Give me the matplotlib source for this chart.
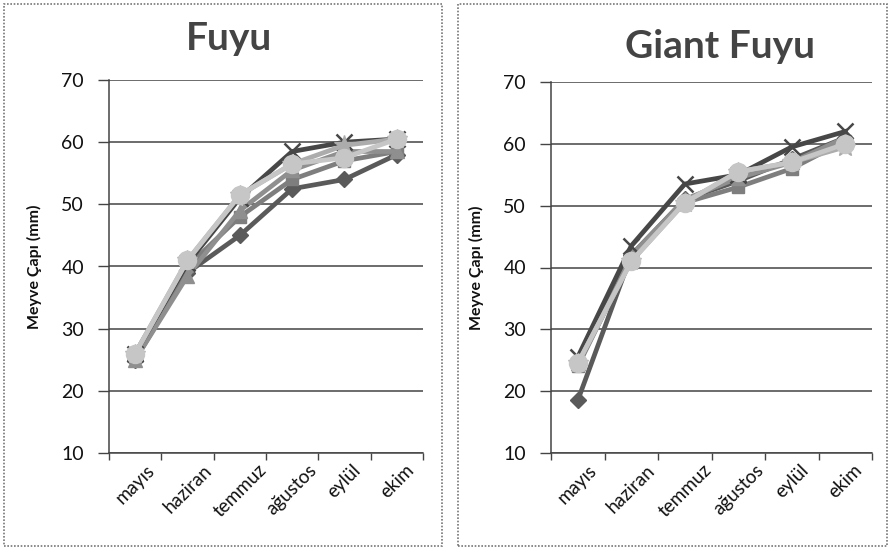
import matplotlib
matplotlib.use("Agg")
import matplotlib.pyplot as plt
from matplotlib.patches import Rectangle

plt.rcParams['font.family'] = ['Lato', 'DejaVu Sans']

months = ["mayıs", "haziran", "temmuz", "ağustos", "eylül", "ekim"]
yticks = [10, 20, 30, 40, 50, 60, 70]

# Fuyu fruit diameter (mm) per series
fuyu_diamond = [25.0, 39.0, 45.0, 52.5, 54.0, 58.0]
fuyu_square = [25.5, 40.0, 48.0, 54.0, 57.0, 58.5]
fuyu_triangle = [25.0, 38.5, 49.0, 55.5, 58.5, 58.5]
fuyu_x = [26.0, 40.5, 51.0, 58.5, 60.0, 60.5]
fuyu_star = [26.0, 41.0, 51.5, 56.5, 59.5, 60.5]
fuyu_circle = [26.0, 41.0, 51.5, 56.5, 57.5, 60.5]

# Giant Fuyu fruit diameter (mm) per series
giant_diamond = [18.5, 42.0, 51.0, 54.0, 57.5, 61.0]
giant_square = [24.0, 41.5, 50.5, 53.0, 56.0, 60.5]
giant_triangle = [24.5, 42.0, 51.0, 54.5, 57.0, 61.0]
giant_x = [25.5, 43.5, 53.5, 55.0, 59.5, 62.0]
giant_star = [24.5, 41.0, 50.5, 55.5, 57.0, 59.5]
giant_circle = [24.5, 41.0, 50.5, 55.5, 57.0, 60.0]

styles = [
    dict(color="#5a5a5a", marker="D", ms=8),
    dict(color="#7e7e7e", marker="s", ms=9),
    dict(color="#8f8f8f", marker="^", ms=10),
    dict(color="#474747", marker="x", ms=12, mew=1.8),
    dict(color="#acacac", marker="*", ms=15),
    dict(color="#c6c6c6", marker="o", ms=13),
]

W, H = 890, 549
fig = plt.figure(figsize=(W / 100, H / 100), dpi=100)
fig.patch.set_facecolor("white")


def px_axes(x0, y0, x1, y1):
    return fig.add_axes([x0 / W, 1 - y1 / H, (x1 - x0) / W, (y1 - y0) / H])


def panel(ax, title, series, title_xy, box):
    bx0, by0, bx1, by1 = box
    fig.patches.append(Rectangle((bx0 / W, 1 - by1 / H), (bx1 - bx0) / W, (by1 - by0) / H,
                                 transform=fig.transFigure, fill=False,
                                 edgecolor="#777777", lw=1.2, ls=(0, (1, 1))))
    x = list(range(len(months)))
    for vals, st in zip(series, styles):
        ax.plot(x, vals, color=st["color"], lw=3.4, marker=st["marker"],
                ms=st["ms"], mew=st.get("mew", 1), mfc=st["color"], mec=st["color"],
                solid_joinstyle="round", zorder=3)
    ax.set_xlim(-0.5, len(months) - 0.5)
    ax.set_ylim(10, 70)
    ax.set_yticks(yticks)
    ax.set_yticklabels([str(v) for v in yticks], fontsize=14, color="#111111")
    ax.set_xticks(x)
    ax.set_xticklabels(months, rotation=45, ha="center", va="top", fontsize=13.5,
                       color="#111111")
    ax.tick_params(axis="x", length=0, pad=6)
    ax.tick_params(axis="y", length=8, width=1, color="#444444", pad=10)
    ax.set_xticks([i - 0.5 for i in range(len(months) + 1)], minor=True)
    ax.tick_params(axis="x", which="minor", length=5, width=1, color="#444444")
    ax.grid(axis="y", color="#444444", lw=1.1, zorder=0)
    for s in ("top", "right"):
        ax.spines[s].set_visible(False)
    for s in ("left", "bottom"):
        ax.spines[s].set_color("#444444")
        ax.spines[s].set_linewidth(1.1)
    ax.set_ylabel("Meyve Çapı (mm)", fontsize=11.5, fontweight="bold", color="#111111",
                  labelpad=14)
    fig.text(title_xy[0] / W, 1 - title_xy[1] / H, title, fontsize=28, fontweight="bold",
             color="#444444", ha="center", va="center")


ax1 = px_axes(109, 80, 423, 453)
ax2 = px_axes(551, 82, 872, 453)

panel(ax1, "Fuyu",
      [fuyu_diamond, fuyu_square, fuyu_triangle, fuyu_x, fuyu_star, fuyu_circle],
      (229, 38), (4, 4, 442, 546))
panel(ax2, "Giant Fuyu",
      [giant_diamond, giant_square, giant_triangle, giant_x, giant_star, giant_circle],
      (720, 47), (458, 4, 887, 546))

fig.savefig("out.png", dpi=100, facecolor="white")
